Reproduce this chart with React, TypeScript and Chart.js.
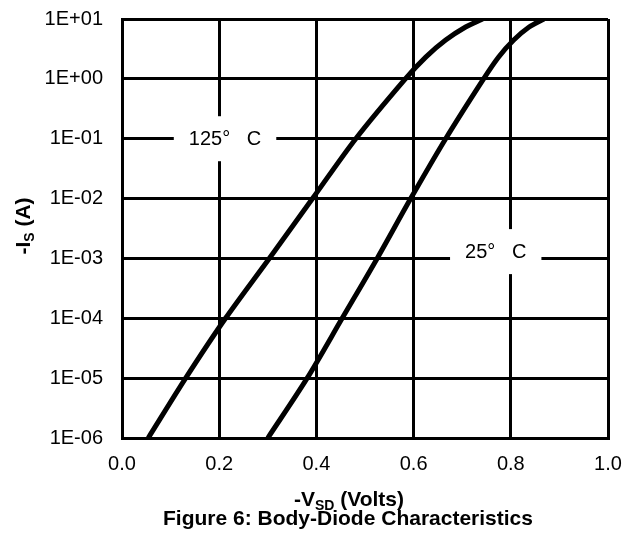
import React, { useEffect, useRef } from "react";
import { Chart, registerables } from "chart.js";

Chart.register(...registerables);

// Data
const vsd125 = [0.054, 0.131, 0.213, 0.303, 0.392, 0.481, 0.583, 0.625, 0.666, 0.707, 0.742];
const is125 = [1e-6, 1e-5, 1e-4, 1e-3, 1e-2, 1e-1, 1, 2.31, 4.45, 7.35, 10];
const vsd25 = [0.3, 0.381, 0.453, 0.525, 0.594, 0.666, 0.744, 0.775, 0.806, 0.837, 0.868];
const is25 = [1e-6, 1e-5, 1e-4, 1e-3, 1e-2, 1e-1, 1, 2.32, 4.45, 7.26, 10];

const xTicks = [0, 0.2, 0.4, 0.6, 0.8, 1.0];
const yTicks = [1e-6, 1e-5, 1e-4, 1e-3, 1e-2, 1e-1, 1, 10];

const curveLabels = ["125°   C", "25°   C"];
const labelX = [0.212, 0.769];
const labelY = [0.1, 1.3e-3];

const FONT = "'Liberation Sans', Arial, sans-serif";

function fmtExp(v: number): string {
  const e = Math.round(Math.log10(v));
  const a = Math.abs(e);
  return "1E" + (e < 0 ? "-" : "+") + (a < 10 ? "0" + a : String(a));
}

const textPlugin = {
  id: "textPlugin",
  afterDatasetsDraw(chart: any) {
    const ctx = chart.ctx;
    const xs = chart.scales.x;
    const ys = chart.scales.y;
    ctx.save();
    ctx.font = `20px ${FONT}`;
    ctx.textBaseline = "middle";
    ctx.textAlign = "center";
    for (let i = 0; i < curveLabels.length; i++) {
      const px = xs.getPixelForValue(labelX[i]);
      const py = ys.getPixelForValue(labelY[i]);
      const w = ctx.measureText(curveLabels[i]).width + 30;
      const h = 45;
      ctx.fillStyle = "#ffffff";
      ctx.fillRect(px - w / 2, py - h / 2, w, h);
      ctx.fillStyle = "#000000";
      ctx.fillText(curveLabels[i], px, py + 1);
    }
    ctx.restore();
  },
  afterDraw(chart: any) {
    const ctx = chart.ctx;
    ctx.save();
    ctx.fillStyle = "#000000";
    ctx.textBaseline = "alphabetic";
    ctx.textAlign = "left";
    const big = `bold 21px ${FONT}`;
    const small = `bold 14px ${FONT}`;
    // x axis title: -V_SD (Volts)
    ctx.font = big;
    const w1 = ctx.measureText("-V").width;
    const w3 = ctx.measureText(" (Volts)").width;
    ctx.font = small;
    const w2 = ctx.measureText("SD").width;
    const cx = 349;
    const x0 = cx - (w1 + w2 + w3) / 2;
    const by = 506;
    ctx.font = big;
    ctx.fillText("-V", x0, by);
    ctx.font = small;
    ctx.fillText("SD", x0 + w1, by + 4);
    ctx.font = big;
    ctx.fillText(" (Volts)", x0 + w1 + w2, by);
    // caption
    ctx.textAlign = "center";
    ctx.fillText("Figure 6: Body-Diode Characteristics", 348, 525);
    // y axis title: -I_S (A), rotated
    ctx.translate(30, 226);
    ctx.rotate(-Math.PI / 2);
    ctx.textAlign = "left";
    ctx.font = big;
    const a1 = ctx.measureText("-I").width;
    const a3 = ctx.measureText(" (A)").width;
    ctx.font = small;
    const a2 = ctx.measureText("S").width;
    const sx = -(a1 + a2 + a3) / 2;
    ctx.font = big;
    ctx.fillText("-I", sx, 0);
    ctx.font = small;
    ctx.fillText("S", sx + a1, 4);
    ctx.font = big;
    ctx.fillText(" (A)", sx + a1 + a2, 0);
    ctx.restore();
  },
};

export default function App() {
  const ref = useRef<HTMLCanvasElement | null>(null);
  useEffect(() => {
    if (!ref.current) return;
    const lineStyle = {
      borderColor: "#000000",
      borderWidth: 5,
      pointRadius: 0,
      fill: false,
      tension: 0.3,
      borderCapStyle: "butt",
      borderJoinStyle: "round",
    };
    const chart = new Chart(ref.current, {
      type: "line",
      data: {
        datasets: [
          {
            label: "125°C",
            data: vsd125.map((v, i) => ({ x: v, y: is125[i] })),
            ...lineStyle,
          },
          {
            label: "25°C",
            data: vsd25.map((v, i) => ({ x: v, y: is25[i] })),
            ...lineStyle,
          },
        ],
      },
      options: {
        animation: false,
        responsive: false,
        devicePixelRatio: 1,
        layout: { padding: { top: 19, right: 26, left: 0, bottom: 0 } },
        plugins: {
          legend: { display: false },
          tooltip: { enabled: false },
          title: { display: false },
        },
        scales: {
          x: {
            type: "linear",
            min: 0,
            max: 1,
            afterBuildTicks: (s: any) => {
              s.ticks = xTicks.map((v) => ({ value: v }));
            },
            afterFit: (s: any) => {
              s.height = 104;
              s.paddingLeft = 0;
              s.paddingRight = 0;
            },
            ticks: {
              color: "#000000",
              font: { family: FONT, size: 20 },
              padding: 14,
              maxRotation: 0,
              callback: (v: any) => Number(v).toFixed(1),
            },
            grid: { color: "#000000", lineWidth: 3, drawTicks: false },
            border: { display: true, color: "#000000", width: 3 },
          },
          y: {
            type: "logarithmic",
            min: 1e-6,
            max: 10,
            afterBuildTicks: (s: any) => {
              s.ticks = yTicks.map((v) => ({ value: v }));
            },
            afterFit: (s: any) => {
              s.width = 122;
              s.paddingTop = 0;
              s.paddingBottom = 0;
            },
            ticks: {
              color: "#000000",
              font: { family: FONT, size: 20 },
              padding: 19,
              callback: (v: any) => fmtExp(Number(v)),
            },
            grid: { color: "#000000", lineWidth: 3, drawTicks: false },
            border: { display: true, color: "#000000", width: 3 },
          },
        },
      },
      plugins: [textPlugin],
    } as any);
    return () => chart.destroy();
  }, []);
  return (
    <div style={{ position: "absolute", left: 0, top: 0, width: 634, height: 542, background: "#ffffff" }}>
      <canvas ref={ref} width={634} height={542} style={{ display: "block" }} />
    </div>
  );
}
